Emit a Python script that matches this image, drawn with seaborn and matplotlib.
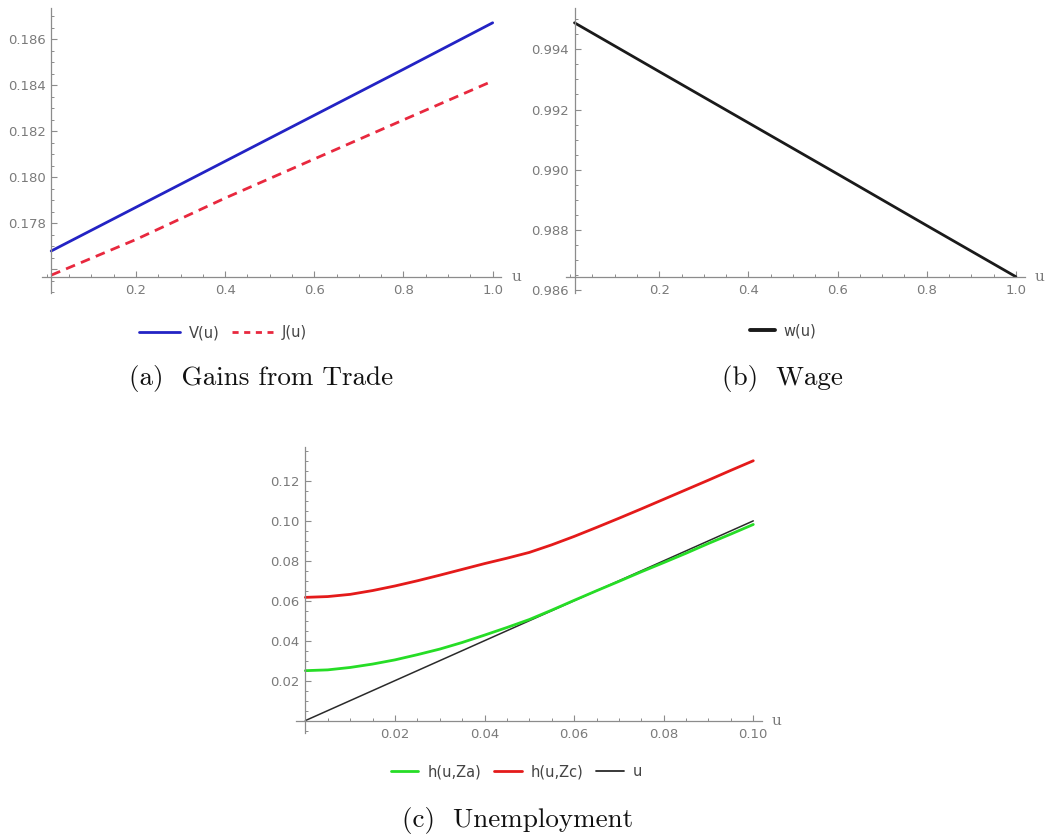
import numpy as np
import pandas as pd
import matplotlib
matplotlib.use("Agg")
import matplotlib.pyplot as plt
import seaborn as sns
from matplotlib.ticker import MultipleLocator
from matplotlib.lines import Line2D

# ---------------- data ----------------
u_ab = [0.01, 0.2, 0.4, 0.6, 0.8, 1.0]
V_vals = [0.1768, 0.1787, 0.1807, 0.1827, 0.1847, 0.18672]
J_vals = [0.17575, 0.1773, 0.1791, 0.1808, 0.1825, 0.18419]
w_vals = [0.99488, 0.99326, 0.99156, 0.98986, 0.98815, 0.98645]

u_c = [0.0, 0.005, 0.01, 0.015, 0.02, 0.025, 0.03, 0.035, 0.04, 0.045, 0.05,
       0.055, 0.06, 0.065, 0.07, 0.075, 0.08, 0.085, 0.09, 0.095, 0.10]
h_Za = [0.0250, 0.0254, 0.0266, 0.0283, 0.0304, 0.0330, 0.0358, 0.0391, 0.0428, 0.0466, 0.0506,
        0.0553, 0.0602, 0.0650, 0.0697, 0.0745, 0.0791, 0.0838, 0.0887, 0.0934, 0.0982]
h_Zc = [0.0617, 0.0621, 0.0632, 0.0651, 0.0674, 0.0700, 0.0728, 0.0757, 0.0786, 0.0813, 0.0842,
        0.0880, 0.0922, 0.0967, 0.1013, 0.1060, 0.1108, 0.1156, 0.1204, 0.1253, 0.1301]
u_line_x = [0.0, 0.10]
u_line_y = [0.0, 0.10]

xticks_ab = [0.2, 0.4, 0.6, 0.8, 1.0]
xticklabels_ab = ["0.2", "0.4", "0.6", "0.8", "1.0"]
yticks_a = [0.176, 0.178, 0.180, 0.182, 0.184, 0.186]
yticklabels_a = ["", "0.178", "0.180", "0.182", "0.184", "0.186"]
yticks_b = [0.986, 0.988, 0.990, 0.992, 0.994]
yticklabels_b = ["0.986", "0.988", "0.990", "0.992", "0.994"]
xticks_c = [0.02, 0.04, 0.06, 0.08, 0.10]
xticklabels_c = ["0.02", "0.04", "0.06", "0.08", "0.10"]
yticks_c = [0.02, 0.04, 0.06, 0.08, 0.10, 0.12]
yticklabels_c = ["0.02", "0.04", "0.06", "0.08", "0.10", "0.12"]

captions = ["(a)  Gains from Trade", "(b)  Wage", "(c)  Unemployment"]

# ---------------- style ----------------
sns.set_style("white")
plt.rcParams["font.family"] = ["DejaVu Sans"]

AX_COL = "#8c8c8c"
LAB_COL = "#7a7a7a"

fig = plt.figure(figsize=(10.54, 8.4), dpi=100)
axA = fig.add_axes([0.0402, 0.6508, 0.4356, 0.3396])
axB = fig.add_axes([0.5367, 0.6512, 0.4355, 0.3389])
axC = fig.add_axes([0.2812, 0.1274, 0.4420, 0.3405])

c_blue = "#2323c4"
c_red_d = "#e8283e"
c_black = "#1a1a1a"
c_green = "#26dd26"
c_red = "#e41a1a"

sns.lineplot(x=u_ab, y=V_vals, ax=axA, color=c_blue, lw=2.0, legend=False)
sns.lineplot(x=u_ab, y=J_vals, ax=axA, color=c_red_d, lw=2.0, legend=False,
             linestyle=(0, (3.5, 2.3)))
sns.lineplot(x=u_ab, y=w_vals, ax=axB, color=c_black, lw=2.0, legend=False)
sns.lineplot(x=u_line_x, y=u_line_y, ax=axC, color="#2a2a2a", lw=1.1, legend=False)
sns.lineplot(x=u_c, y=h_Za, ax=axC, color=c_green, lw=2.0, legend=False)
sns.lineplot(x=u_c, y=h_Zc, ax=axC, color=c_red, lw=2.0, legend=False)


def style(ax, xlim, ylim, x0, y0, xt, xtl, xminor, yt, ytl, yminor):
    ax.set_xlim(xlim)
    ax.set_ylim(ylim)
    ax.set_xlabel("")
    ax.set_ylabel("")
    ax.grid(False)
    for s in ["top", "right"]:
        ax.spines[s].set_visible(False)
    ax.spines["left"].set_position(("data", x0))
    ax.spines["bottom"].set_position(("data", y0))
    for s in ["left", "bottom"]:
        ax.spines[s].set_color(AX_COL)
        ax.spines[s].set_linewidth(0.9)
    ax.set_xticks(xt)
    ax.set_xticklabels(xtl)
    ax.set_yticks(yt)
    ax.set_yticklabels(ytl)
    ax.xaxis.set_minor_locator(MultipleLocator(xminor))
    ax.yaxis.set_minor_locator(MultipleLocator(yminor))
    ax.tick_params(which="both", direction="in", color=AX_COL,
                   labelcolor=LAB_COL, labelsize=9.5,
                   bottom=True, left=True, top=False, right=False)
    ax.tick_params(which="major", length=4.5, width=0.8)
    ax.tick_params(which="minor", length=2.5, width=0.7)
    ax.tick_params(axis="x", which="major", pad=5)
    ax.tick_params(axis="y", which="major", pad=4)
    ax.annotate("u", xy=(1.0, y0), xycoords=("axes fraction", "data"),
                xytext=(7, 0), textcoords="offset points", va="center",
                ha="left", color=LAB_COL, fontsize=11, family="DejaVu Serif")
    ax.patch.set_alpha(0)


style(axA, (-0.0098, 1.0198), (0.17496, 0.18736), 0.01, 0.17565,
      xticks_ab, xticklabels_ab, 0.05, yticks_a, yticklabels_a, 0.0005)
style(axB, (-0.0098, 1.0198), (0.98591, 0.99536), 0.01, 0.98645,
      xticks_ab, xticklabels_ab, 0.05, yticks_b, yticklabels_b, 0.0005)
style(axC, (-0.002, 0.102), (-0.0062, 0.137), 0.0, 0.0,
      xticks_c, xticklabels_c, 0.005, yticks_c, yticklabels_c, 0.005)

# ---------------- legends ----------------
leg_kw = dict(frameon=False, loc="center", fontsize=10.5, labelcolor="#444444",
              handletextpad=0.6, borderpad=0.0)
hA = [Line2D([], [], color=c_blue, lw=2.0),
      Line2D([], [], color=c_red_d, lw=2.0, linestyle=(0, (2.2, 2.0)))]
fig.legend(hA, ["V(u)", "J(u)"], bbox_to_anchor=(0.2116, 0.6036), ncol=2,
           handlelength=2.8, columnspacing=0.9, **leg_kw)
hB = [Line2D([], [], color=c_black, lw=2.8)]
fig.legend(hB, ["w(u)"], bbox_to_anchor=(0.7430, 0.6060), ncol=1,
           handlelength=1.7, **leg_kw)
hC = [Line2D([], [], color=c_green, lw=2.0),
      Line2D([], [], color=c_red, lw=2.0),
      Line2D([], [], color="#2a2a2a", lw=1.3)]
fig.legend(hC, ["h(u,Za)", "h(u,Zc)", "u"], bbox_to_anchor=(0.4900, 0.0810), ncol=3,
           handlelength=1.9, columnspacing=0.9, **leg_kw)

# ---------------- captions ----------------
cap_kw = dict(family="cmr10", fontsize=19.5, ha="center", va="center", color="#111111")
fig.text(0.2476, 0.5490, captions[0], **cap_kw)
fig.text(0.7424, 0.5490, captions[1], **cap_kw)
fig.text(0.4915, 0.0230, captions[2], **cap_kw)

fig.savefig("out.png", dpi=100)
